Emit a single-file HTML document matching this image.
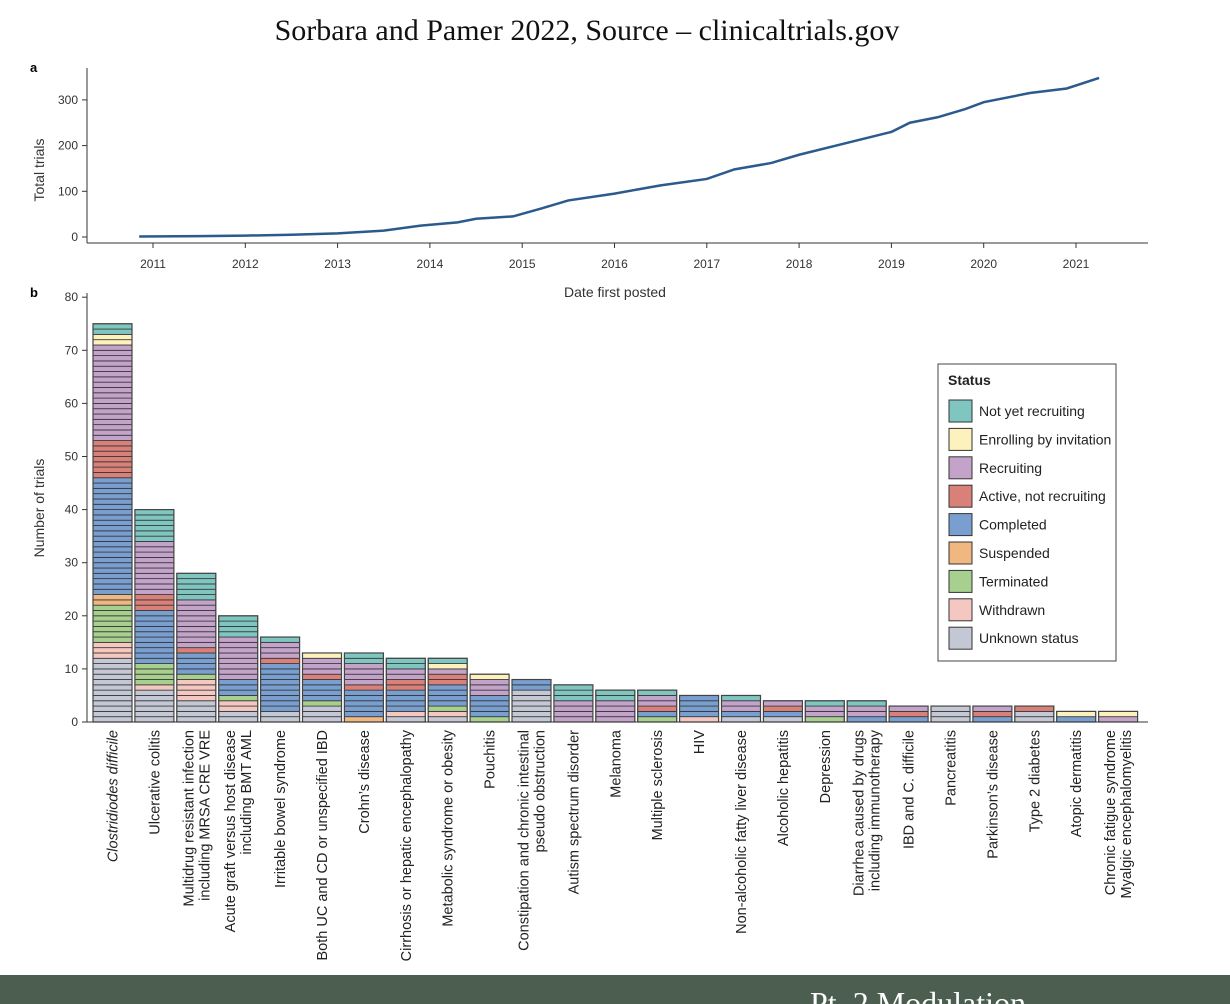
<!DOCTYPE html>
<html><head><meta charset="utf-8"><style>
body{margin:0;background:#fff;width:1230px;height:1004px;overflow:hidden;position:relative}
svg{position:absolute;left:0;top:0}
</style></head><body>
<svg id="s" width="1230" height="1004">
<text x="587" y="40" text-anchor="middle" font-family="Liberation Serif, serif" font-size="30" fill="#111">Sorbara and Pamer 2022, Source – clinicaltrials.gov</text>
<text x="30" y="72" font-family="Liberation Sans, sans-serif" font-size="13" font-weight="bold">a</text>
<text x="30" y="297" font-family="Liberation Sans, sans-serif" font-size="13" font-weight="bold">b</text>
<rect x="0" y="975" width="1230" height="29" fill="#4b5e50"/>
<text x="810" y="1014" font-family="Liberation Serif, serif" font-size="32" fill="#fff">Pt. 2 Modulation</text>
</svg>
<script>
const years=[2010.85,2011.5,2012,2012.5,2013,2013.5,2013.9,2014.3,2014.5,2014.9,2015.2,2015.5,2016,2016.5,2017,2017.3,2017.7,2018,2018.5,2019,2019.2,2019.5,2019.8,2020,2020.5,2020.9,2021.25];
const totals=[1,2,3,5,8,14,25,32,40,45,62,80,95,113,127,148,162,180,205,230,250,262,280,295,315,325,348];
const yearTicks=[2011,2012,2013,2014,2015,2016,2017,2018,2019,2020,2021];
const totalTicks=[0,100,200,300];
const categories=["Clostridiodes difficile","Ulcerative colitis","Multidrug resistant infection|including MRSA CRE VRE","Acute graft versus host disease|including BMT AML","Irritable bowel syndrome","Both UC and CD or unspecified IBD","Crohn’s disease","Cirrhosis or hepatic encephalopathy","Metabolic syndrome or obesity","Pouchitis","Constipation and chronic intestinal|pseudo obstruction","Autism spectrum disorder","Melanoma","Multiple sclerosis","HIV","Non-alcoholic fatty liver disease","Alcoholic hepatitis","Depression","Diarrhea caused by drugs|including immunotherapy","IBD and C. difficile","Pancreatitis","Parkinson’s disease","Type 2 diabetes","Atopic dermatitis","Chronic fatigue syndrome|Myalgic encephalomyelitis"];
const statuses=["Unknown status","Withdrawn","Terminated","Suspended","Completed","Active, not recruiting","Recruiting","Enrolling by invitation","Not yet recruiting"];
const statusColors=["#c3c8d4","#f4c7c0","#a7d08f","#f0b880","#789fd0","#d98079","#c4a3cb","#fdf1bd","#7fc6c1"];
const unknownS=[12,6,4,2,2,3,0,1,1,0,6,0,0,0,0,1,1,0,0,0,3,0,2,0,0];
const withdrawnS=[3,1,4,2,0,0,0,1,1,0,0,0,0,0,1,0,0,0,0,0,0,0,0,0,0];
const terminatedS=[7,4,1,1,0,1,0,0,1,1,0,0,0,1,0,0,0,1,0,0,0,0,0,0,0];
const suspendedS=[2,0,0,0,0,0,1,0,0,0,0,0,0,0,0,0,0,0,0,0,0,0,0,0,0];
const completedS=[22,10,4,3,9,4,5,4,4,4,2,0,0,1,4,1,1,0,1,1,0,1,0,1,0];
const activeS=[7,3,1,0,1,1,1,2,2,0,0,0,0,1,0,0,1,0,0,1,0,1,1,0,0];
const recruitingS=[18,10,9,8,3,3,4,2,1,3,0,4,4,2,0,2,1,2,2,1,0,1,0,0,1];
const enrollingS=[2,0,0,0,0,1,0,0,1,1,0,0,0,0,0,0,0,0,0,0,0,0,0,1,1];
const notYetS=[2,6,5,4,1,0,2,2,1,0,0,3,2,1,0,1,0,1,1,0,0,0,0,0,0];
const countTicks=[0,10,20,30,40,50,60,70,80];

const NS="http://www.w3.org/2000/svg";
const svg=document.getElementById('s');
function mk(t,a,p){const e=document.createElementNS(NS,t);for(const k in a)e.setAttribute(k,a[k]);(p||svg).appendChild(e);return e;}
const F="Liberation Sans, sans-serif";
const xA=y=>153+(y-2011)*92.3, yA=v=>237-v*0.457;
let ax=mk('line',{x1:87,y1:243,x2:1148,y2:243,stroke:'#333'});

let ay=mk('line',{x1:87,y1:68,x2:87,y2:243,stroke:'#333'});

yearTicks.forEach(y=>{mk('line',{x1:xA(y),y1:243,x2:xA(y),y2:248,stroke:'#333'});
 const t=mk('text',{x:xA(y),y:268,'text-anchor':'middle','font-family':F,'font-size':12,fill:'#333'});t.textContent=y;
 });
totalTicks.forEach(v=>{mk('line',{x1:82,y1:yA(v),x2:87,y2:yA(v),stroke:'#333'});
 const t=mk('text',{x:78,y:yA(v)+4,'text-anchor':'end','font-family':F,'font-size':12,fill:'#333'});t.textContent=v;
 });
let t1=mk('text',{x:615,y:297,'text-anchor':'middle','font-family':F,'font-size':14,fill:'#333'});t1.textContent='Date first posted';

let t2=mk('text',{x:0,y:0,transform:'translate(44,170) rotate(-90)','text-anchor':'middle','font-family':F,'font-size':14,fill:'#333'});t2.textContent='Total trials';

let line=mk('polyline',{points:years.map((y,i)=>xA(y)+','+yA(totals[i])).join(' '),fill:'none',stroke:'#2a5a8e','stroke-width':2.5});

const yB=v=>722-v*5.31, xB=i=>93+i*41.9, bw=39;
const series=[unknownS,withdrawnS,terminatedS,suspendedS,completedS,activeS,recruitingS,enrollingS,notYetS];
let by=mk('line',{x1:87,y1:293,x2:87,y2:722,stroke:'#333'});

countTicks.forEach(v=>{mk('line',{x1:82,y1:yB(v),x2:87,y2:yB(v),stroke:'#333'});
 const t=mk('text',{x:78,y:yB(v)+4,'text-anchor':'end','font-family':F,'font-size':12,fill:'#333'});t.textContent=v;
 });
let t3=mk('text',{x:0,y:0,transform:'translate(44,508) rotate(-90)','text-anchor':'middle','font-family':F,'font-size':14,fill:'#333'});t3.textContent='Number of trials';

categories.forEach((c,i)=>{
 let cum=0;
 const g=mk('g',{});
 
 series.forEach((s,k)=>{for(let u=0;u<s[i];u++){mk('rect',{x:xB(i),y:yB(cum+1),width:bw,height:5.31,fill:statusColors[k],stroke:'#333','stroke-width':0.8},g);cum++;}});
 mk('rect',{x:xB(i),y:yB(cum),width:bw,height:yB(0)-yB(cum),fill:'none',stroke:'#444','stroke-width':1.2},g);
 const parts=c.split('|');
 const cx=xB(i)+bw/2;
 parts.forEach((p,j)=>{
  const off=(j-(parts.length-1)/2)*16+5;
  const t=mk('text',{x:0,y:0,transform:`translate(${cx+off},730) rotate(-90)`,'text-anchor':'end','font-family':F,'font-size':14.5,fill:'#222'});
  t.textContent=p;
  if(i===0)t.setAttribute('font-style','italic');
  
 });
});
let bx=mk('line',{x1:87,y1:722,x2:1148,y2:722,stroke:'#333'});

const lg=mk('g',{});

mk('rect',{x:938,y:364,width:178,height:297,fill:'#fff',stroke:'#444'},lg);
let lt=mk('text',{x:948,y:385,'font-family':F,'font-size':14,'font-weight':'bold',fill:'#222'},lg);lt.textContent='Status';
const order=[8,7,6,5,4,3,2,1,0];
order.forEach((k,j)=>{const y=411+j*28.4;
 const e=mk('g',{},lg);
 
 mk('rect',{x:949,y:y-11,width:23,height:22,fill:statusColors[k],stroke:'#333'},e);
 const t=mk('text',{x:979,y:y+5,'font-family':F,'font-size':14,fill:'#222'},e);t.textContent=statuses[k];});
</script>
</body></html>
